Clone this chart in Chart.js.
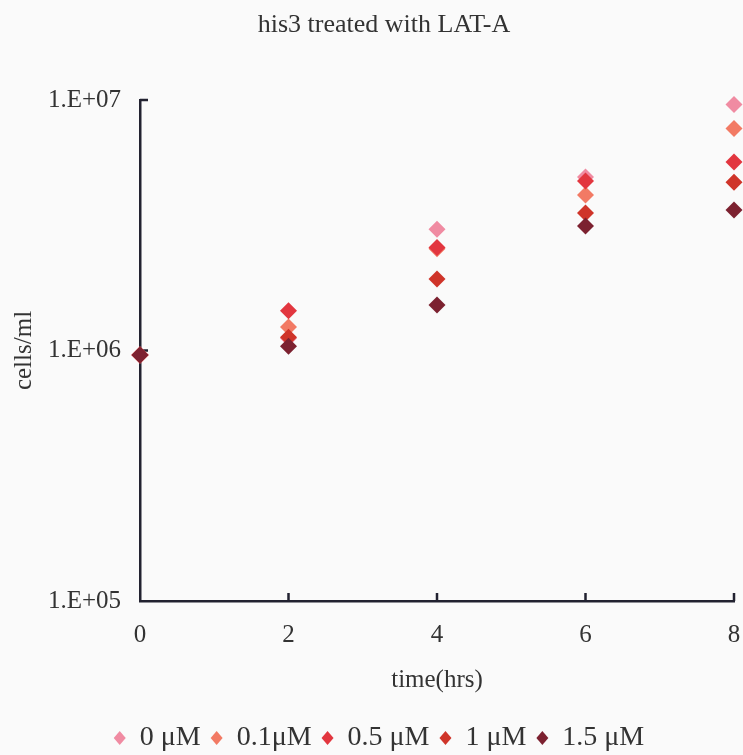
<!DOCTYPE html>
<html>
<head>
<meta charset="utf-8">
<script src="https://cdn.jsdelivr.net/npm/chart.js@4"></script>
<style>
html,body{margin:0;padding:0;background:#fafafa;}
#wrap{width:743px;height:755px;}
</style>
</head>
<body>
<div id="wrap"><canvas id="c" width="743" height="755"></canvas></div>
<script>
const hours = [0, 2, 4, 6, 8];
const seriesNames = ['0 \u03bcM', '0.1\u03bcM', '0.5 \u03bcM', '1 \u03bcM', '1.5 \u03bcM'];
const conc0   = [9.6e5, 1.12e6, 3.05e6, 4.93e6, 9.6e6];
const conc01  = [9.6e5, 1.24e6, 2.55e6, 4.18e6, 7.7e6];
const conc05  = [9.6e5, 1.44e6, 2.58e6, 4.75e6, 5.65e6];
const conc1   = [9.6e5, 1.13e6, 1.93e6, 3.54e6, 4.7e6];
const conc15  = [9.6e5, 1.04e6, 1.52e6, 3.14e6, 3.64e6];
const yTicks = [1e5, 1e6, 1e7];
const xTicks = [0, 2, 4, 6, 8];
const colors = ['#f08ba2', '#f27a64', '#e2363f', '#cf3429', '#7c2130'];

const allSeries = [conc0, conc01, conc05, conc1, conc15];
const FONT = 'Liberation Serif';
const textColor = '#333';

const datasets = allSeries.map((vals, i) => ({
  label: seriesNames[i],
  data: hours.map((h, j) => ({x: h, y: vals[j]})),
  backgroundColor: colors[i],
  borderColor: colors[i],
  borderWidth: 0,
  pointStyle: 'rectRot',
  pointRadius: 8.5,
  pointHoverRadius: 8.5,
  showLine: false,
  clip: false,
  order: allSeries.length - i
}));

const innerTicks = {
  id: 'innerTicks',
  afterLayout(chart) {
    if (chart.titleBlock) chart.titleBlock.left += 34;
    if (chart.legend) chart.legend.left += 24;
  },
  beforeDatasetsDraw(chart) {
    const ctx = chart.ctx;
    const xs = chart.scales.x, ys = chart.scales.y;
    ctx.save();
    ctx.strokeStyle = '#222230';
    ctx.lineWidth = 2.5;
    ctx.beginPath();
    xTicks.forEach(v => {
      if (v === 0) return;
      const px = xs.getPixelForValue(v);
      ctx.moveTo(px, ys.bottom);
      ctx.lineTo(px, ys.bottom - 8);
    });
    yTicks.forEach(v => {
      if (v === yTicks[0]) return;
      const py = ys.getPixelForValue(v);
      ctx.moveTo(xs.left, py);
      ctx.lineTo(xs.left + 8, py);
    });
    ctx.stroke();
    ctx.restore();
  }
};

new Chart(document.getElementById('c'), {
  type: 'scatter',
  data: {datasets},
  options: {
    responsive: false,
    animation: false,
    events: [],
    layout: {padding: {left: 0, right: 9, top: 0, bottom: -7}},
    plugins: {
      title: {
        display: true,
        text: 'his3 treated with LAT-A',
        color: textColor,
        font: {family: FONT, size: 26, weight: 'normal'},
        padding: {top: 10, bottom: 58.8}
      },
      legend: {
        position: 'bottom',
        labels: {
          usePointStyle: true,
          pointStyle: 'rectRot',
          boxHeight: 10,
          pointStyleWidth: 12,
          padding: 10,
          color: textColor,
          font: {family: FONT, size: 28},
          sort: (a, b) => a.datasetIndex - b.datasetIndex
        }
      },
      tooltip: {enabled: false}
    },
    scales: {
      x: {
        type: 'linear',
        min: 0, max: 8,
        afterBuildTicks: s => { s.ticks = xTicks.map(v => ({value: v})); },
        afterFit: s => { s.height = 113; s.paddingRight = 0; s.paddingLeft = 0; },
        grid: {display: false, drawTicks: false},
        border: {display: true, color: '#222230', width: 2.5},
        ticks: {color: textColor, padding: 19, font: {family: FONT, size: 25}, maxRotation: 0},
        title: {display: true, text: 'time(hrs)', color: textColor,
                font: {family: FONT, size: 25}, padding: {top: 0, bottom: 19}}
      },
      y: {
        type: 'logarithmic',
        min: 1e5, max: 1e7,
        afterBuildTicks: s => { s.ticks = yTicks.map(v => ({value: v, major: true})); },
        afterFit: s => { s.width = 140; },
        grid: {display: false, drawTicks: false},
        border: {display: true, color: '#222230', width: 2.5},
        ticks: {
          color: textColor, padding: 19, font: {family: FONT, size: 25},
          callback: v => '1.E+0' + Math.round(Math.log10(v))
        },
        title: {display: true, text: 'cells/ml', color: textColor,
                font: {family: FONT, size: 25}, padding: {top: 9, bottom: 0}}
      }
    }
  },
  plugins: [innerTicks]
});
</script>
</body>
</html>
